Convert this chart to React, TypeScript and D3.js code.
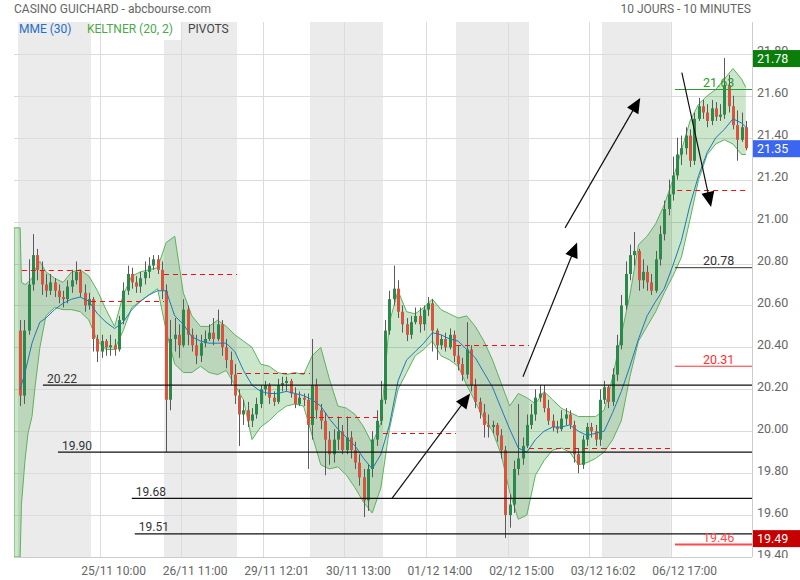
import React from 'react';
import * as d3 from 'd3';

const W = 800;
const H = 580;
const PL = 14, PR = 752, PT = 22, PB = 557;

const titleLeft = 'CASINO GUICHARD - abcbourse.com';
const titleRight = '10 JOURS - 10 MINUTES';
const legendItems = ['MME (30)', 'KELTNER (20, 2)', 'PIVOTS'];

// 30-minute candles, 17 per session
const firstOpen = 20.48;
const closes = [
  20.17, 20.48, 20.70, 20.84, 20.77, 20.70, 20.67, 20.71, 20.67, 20.64, 20.63, 20.69, 20.72, 20.76, 20.66, 20.60, 20.63,
  20.44, 20.38, 20.43, 20.40, 20.41, 20.39, 20.53, 20.67, 20.75, 20.71, 20.69, 20.73, 20.76, 20.79, 20.82, 20.77, 20.67,
  20.15, 20.44, 20.46, 20.41, 20.58, 20.46, 20.41, 20.36, 20.42, 20.44, 20.47, 20.44, 20.51, 20.40, 20.34, 20.27, 20.17,
  20.08, 20.10, 20.05, 20.08, 20.13, 20.20, 20.22, 20.16, 20.14, 20.22, 20.23, 20.24, 20.18, 20.13, 20.16, 20.15, 20.03,
  20.22, 20.10, 20.05, 19.96, 19.89, 19.96, 20.00, 19.91, 19.97, 19.91, 19.85, 19.78, 19.67, 19.82, 19.96, 20.05, 20.15,
  20.48, 20.63, 20.68, 20.57, 20.51, 20.46, 20.52, 20.55, 20.51, 20.58, 20.61, 20.48, 20.41, 20.44, 20.40, 20.46, 20.36,
  20.32, 20.27, 20.39, 20.22, 20.14, 20.09, 20.03, 20.02, 20.03, 19.98, 19.91, 19.60, 19.65, 19.82, 19.87, 19.93, 20.03,
  20.08, 20.16, 20.18, 20.11, 20.05, 20.02, 20.01, 20.06, 20.08, 20.03, 19.89, 19.84, 19.96, 20.02, 20.00, 19.96, 20.15,
  20.21, 20.14, 20.27, 20.41, 20.60, 20.75, 20.84, 20.86, 20.72, 20.76, 20.71, 20.67, 20.82, 20.94, 21.06, 21.13,
  21.22, 21.32, 21.35, 21.41, 21.29, 21.49, 21.55, 21.52, 21.48, 21.54, 21.50, 21.51, 21.65, 21.55, 21.46, 21.39, 21.45, 21.35,
];
const highs = [
  20.53, 20.53, 20.82, 20.94, 20.87, 20.81, 20.75, 20.75, 20.73, 20.70, 20.67, 20.72, 20.77, 20.81, 20.77, 20.70, 20.66,
  20.64, 20.46, 20.46, 20.44, 20.46, 20.44, 20.55, 20.71, 20.79, 20.78, 20.74, 20.76, 20.81, 20.83, 20.84, 20.84, 20.81,
  20.70, 20.53, 20.54, 20.51, 20.63, 20.60, 20.49, 20.46, 20.46, 20.48, 20.51, 20.54, 20.58, 20.53, 20.44, 20.38, 20.32,
  20.20, 20.15, 20.14, 20.11, 20.16, 20.22, 20.24, 20.23, 20.19, 20.25, 20.26, 20.26, 20.25, 20.21, 20.19, 20.18, 20.18,
  20.44, 20.25, 20.13, 20.09, 20.00, 20.01, 20.07, 20.03, 20.07, 20.00, 19.95, 19.89, 19.82, 19.84, 20.00, 20.10, 20.24,
  20.53, 20.67, 20.79, 20.72, 20.60, 20.54, 20.55, 20.59, 20.59, 20.60, 20.64, 20.63, 20.49, 20.46, 20.47, 20.49, 20.48,
  20.41, 20.35, 20.52, 20.41, 20.25, 20.16, 20.13, 20.08, 20.05, 20.04, 20.01, 19.93, 19.70, 19.86, 20.13, 19.97, 20.08,
  20.13, 20.20, 20.22, 20.22, 20.15, 20.08, 20.05, 20.10, 20.11, 20.10, 20.05, 19.92, 19.98, 20.04, 20.04, 20.03, 20.20,
  20.24, 20.22, 20.30, 20.46, 20.65, 20.81, 20.89, 20.95, 20.87, 20.82, 20.79, 20.75, 20.86, 20.98, 21.10, 21.20,
  21.31, 21.40, 21.41, 21.45, 21.44, 21.52, 21.59, 21.58, 21.56, 21.58, 21.57, 21.56, 21.78, 21.70, 21.60, 21.53, 21.52, 21.48,
];
const lows = [
  20.12, 20.13, 20.46, 20.67, 20.72, 20.65, 20.64, 20.65, 20.64, 20.61, 20.59, 20.61, 20.66, 20.70, 20.64, 20.57, 20.58,
  20.38, 20.33, 20.35, 20.36, 20.36, 20.36, 20.38, 20.51, 20.65, 20.68, 20.66, 20.66, 20.70, 20.73, 20.77, 20.75, 20.63,
  19.90, 20.10, 20.38, 20.35, 20.40, 20.41, 20.38, 20.32, 20.33, 20.40, 20.43, 20.41, 20.43, 20.36, 20.30, 20.22, 20.13,
  19.93, 20.03, 20.02, 20.02, 20.06, 20.11, 20.17, 20.13, 20.12, 20.13, 20.19, 20.19, 20.16, 20.11, 20.12, 20.12, 19.82,
  19.96, 20.06, 20.01, 19.79, 19.84, 19.85, 19.91, 19.89, 19.89, 19.87, 19.82, 19.74, 19.59, 19.62, 19.78, 19.93, 20.03,
  20.13, 20.46, 20.60, 20.54, 20.47, 20.43, 20.44, 20.51, 20.47, 20.48, 20.55, 20.38, 20.34, 20.39, 20.38, 20.39, 20.33,
  20.29, 20.24, 20.25, 20.19, 20.11, 20.06, 19.97, 19.97, 19.99, 19.95, 19.87, 19.49, 19.54, 19.61, 19.79, 19.84, 19.92,
  20.01, 20.05, 20.14, 20.09, 20.03, 20.00, 19.99, 20.00, 20.03, 20.01, 19.85, 19.80, 19.82, 19.93, 19.97, 19.93, 19.93,
  20.13, 20.11, 20.12, 20.24, 20.39, 20.58, 20.72, 20.79, 20.67, 20.68, 20.67, 20.65, 20.66, 20.79, 20.91, 21.03,
  21.10, 21.20, 21.27, 21.32, 21.26, 21.27, 21.48, 21.49, 21.45, 21.46, 21.48, 21.48, 21.49, 21.52, 21.44, 21.29, 21.38, 21.34,
];

// sessions (candle index bounds), ticks
const dayBounds = [0, 17, 34, 51, 68, 85, 102, 119, 136, 152, 170];
const shadedDays = [0, 2, 4, 6, 8];
const tickPos = [19, 38, 57, 76, 95, 114, 133, 152];
const tickLabels = ['25/11 10:00', '26/11 11:00', '29/11 12:01', '30/11 13:00', '01/12 14:00', '02/12 15:00', '03/12 16:02', '06/12 17:00'];
const yTicks = [19.4, 19.6, 19.8, 20.0, 20.2, 20.4, 20.6, 20.8, 21.0, 21.2, 21.4, 21.6, 21.8];

// Keltner bands and MME, read at candle positions
const kcTime = [
  -1.43, 0, 0.3, 1.13, 1.83, 2.76, 3.46, 4.6,
  6, 8, 10, 12, 14, 16, 18, 20, 22, 24, 26, 28, 30, 32, 34, 36, 38, 40, 42, 44, 46, 48, 50, 52, 54, 56, 58, 60, 62, 64,
  66, 68, 70, 72, 74, 76, 78, 80, 82, 84, 86, 88, 90, 92, 94, 96, 98, 100, 102, 104, 106, 108, 110, 112, 114, 116, 118,
  120, 122, 124, 126, 128, 130, 132, 134, 136, 138, 140, 142, 144, 146, 148, 150, 152, 154, 156, 158, 160, 162, 164, 166, 168, 169,
];
const kcUpper = [
  20.97, 20.97, 20.71, 20.70, 20.71, 20.73, 20.77, 20.81,
  20.76, 20.73, 20.71, 20.76, 20.77, 20.74, 20.67, 20.58, 20.50, 20.65, 20.74, 20.76, 20.77, 20.78, 20.90, 20.93, 20.66, 20.55,
  20.50, 20.50, 20.53, 20.50, 20.46, 20.43, 20.40, 20.32, 20.31, 20.28, 20.27, 20.28, 20.27, 20.36, 20.40, 20.25, 20.12, 20.11,
  20.08, 20.02, 19.94, 20.04, 20.52, 20.67, 20.57, 20.56, 20.59, 20.63, 20.58, 20.56, 20.54, 20.55, 20.50, 20.43, 20.34, 20.23,
  20.12, 20.18, 20.16, 20.13, 20.19, 20.15, 20.11, 20.09, 20.07, 20.07, 20.07, 20.10, 20.26, 20.46, 20.65, 20.89, 20.93, 20.99,
  21.08, 21.20, 21.34, 21.48, 21.56, 21.60, 21.63, 21.68, 21.73, 21.68, 21.64,
];
const kcLower = [
  19.40, 19.40, 19.65, 19.86, 19.99, 20.07, 20.21, 20.40,
  20.55, 20.59, 20.58, 20.58, 20.57, 20.53, 20.43, 20.39, 20.39, 20.48, 20.59, 20.62, 20.65, 20.68, 20.48, 20.32, 20.28, 20.28,
  20.31, 20.28, 20.27, 20.29, 20.22, 20.15, 19.96, 20.02, 20.05, 20.09, 20.12, 20.13, 20.12, 19.98, 19.84, 19.82, 19.83, 19.79,
  19.73, 19.66, 19.61, 19.73, 20.01, 20.20, 20.28, 20.36, 20.39, 20.43, 20.36, 20.34, 20.31, 20.22, 20.14, 20.06, 20.00, 19.89,
  19.71, 19.58, 19.60, 19.79, 19.86, 19.91, 19.92, 19.90, 19.84, 19.85, 19.87, 19.90, 19.96, 20.05, 20.26, 20.43, 20.50, 20.57,
  20.66, 20.74, 20.83, 21.01, 21.20, 21.32, 21.37, 21.39, 21.37, 21.32, 21.32,
];
const mme: (number | null)[] = [
  null, 20.20, 20.22, 20.28, 20.34, 20.42, 20.46, 20.52,
  20.54, 20.58, 20.61, 20.63, 20.64, 20.62, 20.56, 20.52, 20.49, 20.52, 20.58, 20.62, 20.65, 20.67, 20.67, 20.55, 20.51, 20.45,
  20.43, 20.42, 20.42, 20.42, 20.38, 20.29, 20.22, 20.19, 20.18, 20.18, 20.19, 20.18, 20.17, 20.15, 20.12, 20.06, 20.01, 19.97,
  19.93, 19.87, 19.82, 19.89, 20.03, 20.24, 20.34, 20.38, 20.42, 20.47, 20.46, 20.44, 20.43, 20.39, 20.35, 20.28, 20.21, 20.11,
  20.01, 19.92, 19.90, 19.96, 20.00, 20.02, 20.02, 20.03, 20.00, 19.98, 19.99, 20.00, 20.09, 20.19, 20.31, 20.44, 20.55, 20.62,
  20.68, 20.79, 20.91, 21.08, 21.22, 21.33, 21.40, 21.44, 21.49, 21.47, 21.45,
];

// daily pivot (dashed red), one per session
const dailyPivots = [20.77, 20.62, 20.75, 20.28, 20.07, 19.99, 20.41, 19.92, 19.92, 21.15];
// user horizontal lines
const supportLevels = [20.22, 19.90, 19.68, 19.51];
const supportStart = [5.8, 9.3, 26.5, 27.2];
// current-day pivots
const pivotLevels = [21.63, 20.78, 20.31, 19.46];
const pivotStart = 153;
// arrows (candle index, price)
const arrowFrom = [[87.1, 19.68], [117.6, 20.26], [127.4, 20.97], [154.6, 21.71]];
const arrowTo = [[105.3, 20.18], [130.2, 20.90], [144.9, 21.59], [161.4, 21.07]];

const pivotColors = ['#2e9a2e', '#333333', '#ff3030', '#ff4848'];
const pivotWidths = [1, 1, 1, 2];
const FONT = 'Roboto, "Open Sans", Arial, sans-serif';

export default function App() {
  const x = d3.scaleLinear().domain([0, 170]).range([18, 748]);
  const y = d3.scaleLinear().domain([19.4, 21.952]).range([PB, PT]);
  const fmt = d3.format('.2f');

  const candles = closes.map((c, i) => ({
    o: i === 0 ? firstOpen : closes[i - 1],
    h: highs[i],
    l: lows[i],
    c,
  }));

  const idx = d3.range(kcTime.length);
  const kx = (i: number) => x(kcTime[i] + 0.5);
  const bandArea = d3.area<number>().x(kx).y0((i) => y(kcLower[i])).y1((i) => y(kcUpper[i]))(idx) || '';
  const upperPath = d3.line<number>().x(kx).y((i) => y(kcUpper[i]))(idx) || '';
  const lowerPath = d3.line<number>().x(kx).y((i) => y(kcLower[i]))(idx) || '';
  const mmePath = d3.line<number>().defined((i) => mme[i] != null).x(kx).y((i) => y(mme[i] as number))(idx) || '';

  const maxHigh = d3.max(highs) as number;
  const minLow = d3.min(lows) as number;
  const lastClose = closes[closes.length - 1];

  const tags = [
    { v: maxHigh, fill: '#0a7d0a' },
    { v: lastClose, fill: '#3a66f0' },
    { v: minLow, fill: '#c40000' },
  ];

  const arrows = arrowFrom.map((f, k) => {
    const x1 = x(f[0]), y1 = y(f[1]);
    const x2 = x(arrowTo[k][0]), y2 = y(arrowTo[k][1]);
    const dx = x2 - x1, dy = y2 - y1;
    const len = Math.sqrt(dx * dx + dy * dy);
    const ux = dx / len, uy = dy / len;
    const L = 15, hw = 6.5;
    const bx = x2 - ux * L, by = y2 - uy * L;
    const pts = `${x2},${y2} ${bx - uy * hw},${by + ux * hw} ${bx + uy * hw},${by - ux * hw}`;
    return { x1, y1, ex: x2 - ux * (L - 2), ey: y2 - uy * (L - 2), pts };
  });

  return (
    <svg width={W} height={H} style={{ position: 'absolute', left: 0, top: 0, background: '#fff', fontFamily: FONT }}>
      <defs>
        <clipPath id="plotClip">
          <rect x={PL} y={PT} width={PR - PL} height={PB - PT} />
        </clipPath>
        <clipPath id="axisClip">
          <rect x={PR + 1} y={0} width={W - PR} height={PB + 1} />
        </clipPath>
      </defs>

      {/* session shading */}
      {shadedDays.map((d) => (
        <rect key={'sh' + d} x={x(dayBounds[d])} y={PT} width={x(dayBounds[d + 1]) - x(dayBounds[d])} height={PB - PT} fill="#ebebeb" />
      ))}
      {/* legend background */}
      <rect x={101} y={PT} width={81} height={18} fill="#fff" />

      {/* horizontal grid */}
      {yTicks.map((v) => (
        <line key={'gy' + v} x1={PL} x2={PR} y1={Math.round(y(v)) + 0.5} y2={Math.round(y(v)) + 0.5} stroke="#dcdcdc" strokeWidth={1} />
      ))}
      {/* vertical grid */}
      {tickPos.map((t) => (
        <line key={'gx' + t} x1={Math.round(x(t)) + 0.5} x2={Math.round(x(t)) + 0.5} y1={PT} y2={PB} stroke="#dcdcdc" strokeWidth={1} />
      ))}
      {/* frame */}
      <line x1={PR + 0.5} x2={PR + 0.5} y1={PT} y2={PB} stroke="#cccccc" />
      <line x1={PL} x2={PR} y1={PB + 0.5} y2={PB + 0.5} stroke="#cccccc" />

      <g clipPath="url(#plotClip)">
        {/* Keltner */}
        <path d={bandArea} fill="rgba(0,128,0,0.2)" stroke="none" />
        <path d={upperPath} fill="none" stroke="#5cb35c" strokeWidth={1} />
        <path d={lowerPath} fill="none" stroke="#5cb35c" strokeWidth={1} />
        <line x1={kx(0)} x2={kx(0)} y1={y(kcUpper[0])} y2={y(kcLower[0])} stroke="#5cb35c" strokeWidth={1} />

        {/* candles */}
        {candles.map((k, i) => {
          const cx = Math.round(x(i + 0.5));
          const up = k.c >= k.o;
          const top = y(Math.max(k.o, k.c));
          const bot = y(Math.min(k.o, k.c));
          return (
            <g key={'c' + i}>
              <line x1={cx + 0.5} x2={cx + 0.5} y1={y(k.h)} y2={y(k.l)} stroke="#5a5a5a" strokeWidth={1} />
              <rect x={cx - 1} y={top} width={3} height={Math.max(1, bot - top)} fill={up ? '#2b8a4b' : '#d9533f'} />
            </g>
          );
        })}

        {/* MME */}
        <path d={mmePath} fill="none" stroke="#1f78b8" strokeWidth={1} />

        {/* daily pivots */}
        {dailyPivots.map((v, d) => {
          const t0 = d === 0 ? 0.9 : d === 9 ? pivotStart + 0.5 : dayBounds[d];
          return (
            <line key={'dp' + d} x1={x(t0)} x2={x(dayBounds[d + 1])} y1={Math.round(y(v)) + 0.5} y2={Math.round(y(v)) + 0.5}
              stroke="#ee1111" strokeWidth={1} strokeDasharray="5,4" />
          );
        })}

        {/* user horizontal lines */}
        {supportLevels.map((v, k) => (
          <g key={'sl' + k}>
            <line x1={x(supportStart[k])} x2={PR} y1={y(v)} y2={y(v)} stroke="#111" strokeWidth={1.3} />
            <text x={x(supportStart[k]) + 4} y={y(v) - 2.5} fontSize={12} fill="#333">{fmt(v)}</text>
          </g>
        ))}

        {/* current day pivots */}
        {pivotLevels.map((v, k) => (
          <g key={'pv' + k}>
            <line x1={x(pivotStart)} x2={PR} y1={y(v)} y2={y(v)} stroke={pivotColors[k]} strokeWidth={pivotWidths[k]} />
            <text x={703} y={y(v) - 2.5} fontSize={12.5} fill={pivotColors[k]}>{fmt(v)}</text>
          </g>
        ))}

        {/* arrows */}
        {arrows.map((a, k) => (
          <g key={'ar' + k}>
            <line x1={a.x1} y1={a.y1} x2={a.ex} y2={a.ey} stroke="#111" strokeWidth={1.2} />
            <polygon points={a.pts} fill="#000" />
          </g>
        ))}
      </g>

      {/* y-axis labels */}
      <g clipPath="url(#axisClip)">
        {yTicks.map((v) => (
          <text key={'yl' + v} x={757} y={y(v) + 1.5} fontSize={12.5} fill="#666">{fmt(v)}</text>
        ))}
      </g>
      {/* price tags */}
      {tags.map((tg, k) => (
        <g key={'tg' + k}>
          <rect x={753} y={y(tg.v) - 8} width={47} height={17} fill={tg.fill} />
          <text x={757} y={y(tg.v) + 5} fontSize={12.5} fill="#fff">{fmt(tg.v)}</text>
        </g>
      ))}

      {/* x-axis labels */}
      {tickPos.map((t, k) => (
        <text key={'xl' + t} x={x(t) + 14} y={575} fontSize={12} fill="#666" textAnchor="middle">{tickLabels[k]}</text>
      ))}

      {/* header */}
      <text x={14} y={13} fontSize={12} fill="#666">{titleLeft}</text>
      <text x={751} y={13} fontSize={12} fill="#666" textAnchor="end">{titleRight}</text>
      <text x={19} y={33} fontSize={12} fill="#1e6fc8">{legendItems[0]}</text>
      <text x={87} y={33} fontSize={12} fill="#4aa84a">{legendItems[1]}</text>
      <text x={188} y={33} fontSize={12} fill="#444">{legendItems[2]}</text>
    </svg>
  );
}
